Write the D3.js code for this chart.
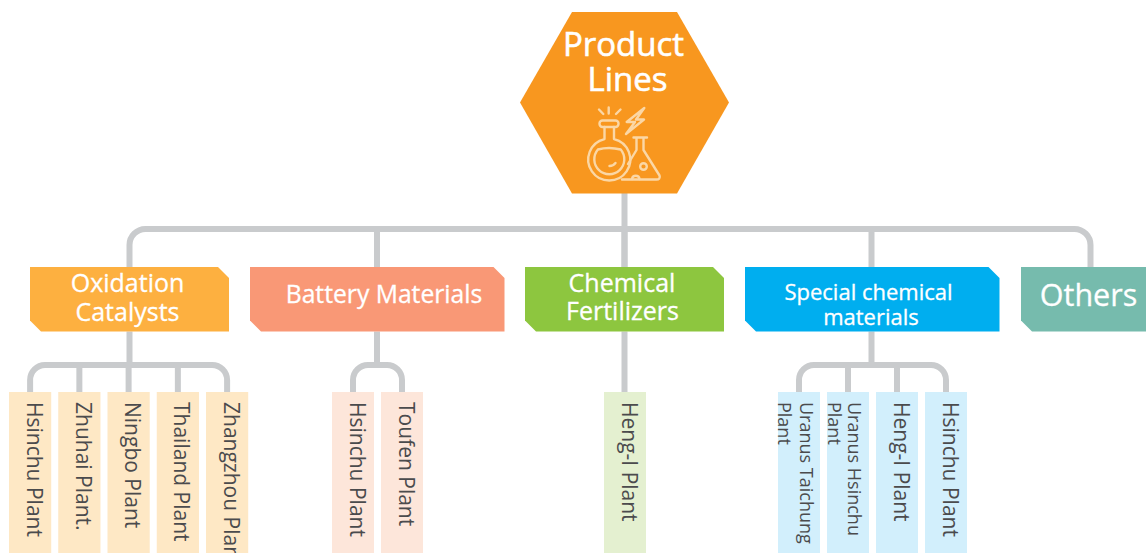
<!DOCTYPE html>
<html>
<head>
<meta charset="utf-8">
<script src="https://cdn.jsdelivr.net/npm/d3@7"></script>
<style>
  html, body { margin: 0; padding: 0; background: #fff; overflow: hidden; }
  svg { display: block; font-family: "Open Sans", sans-serif; }
</style>
</head>
<body>
<svg id="chart" width="1146" height="553"></svg>
<script>
// chart content
const rootLabel = ['Product', 'Lines'];
const categories = ['Oxidation Catalysts', 'Battery Materials', 'Chemical Fertilizers', 'Special chemical materials', 'Others'];
const categoryLines = [['Oxidation', 'Catalysts'], ['Battery Materials'], ['Chemical', 'Fertilizers'], ['Special chemical', 'materials'], ['Others']];
const plants = [
  ['Hsinchu Plant', 'Zhuhai Plant.', 'Ningbo Plant', 'Thailand Plant', 'Zhangzhou Plant'],
  ['Hsinchu Plant', 'Toufen Plant'],
  ['Heng-I Plant'],
  ['Uranus Taichung|Plant', 'Uranus Hsinchu|Plant', 'Heng-I Plant', 'Hsinchu Plant'],
  []
];

// colours
const headColors = ['#fdb040', '#f99876', '#8dc63f', '#00aeef', '#76bbad'];
const plantColors = ['#fee8c5', '#fde6da', '#e4f0d0', '#d2effc', '#fff'];
const lineColor = '#c9cbcd';

// layout
const headLeft = [30, 250, 525, 745, 1021];
const headWidth = [199, 254.5, 199, 254.5, 140];
const trunkX = [129.5, 377, 624.5, 871.5, 1090.5];
const plantStart = [9, 332, 604, 778, 0];
const plantStep = [49.25, 49, 49, 49, 49];
const headFont = [25, 24.7, 25, 22, 30.5];
const headBase = [[292, 321], [303], [292, 320], [300, 325], [306]];
const headCx = [[127.5, 127.5], [384], [622, 622.5], [868.5, 871], [1088.5]];
const rootX = [623.5, 627.5];
const cx = 624.5, barY = 229, subY = 365, headTop = 267, headBot = 331.5, plantTop = 392, plantBot = 553;

const svg = d3.select('#chart');
const lines = svg.append('g').attr('fill', 'none').attr('stroke', lineColor).attr('stroke-width', 6);

// main bar with rounded ends
const bar = d3.path();
bar.moveTo(trunkX[0], headTop);
bar.arcTo(trunkX[0], barY, trunkX[0] + 16, barY, 16);
bar.arcTo(trunkX[4], barY, trunkX[4], barY + 16, 16);
bar.lineTo(trunkX[4], headTop);
lines.append('path').attr('d', bar.toString());
lines.append('line').attr('x1', cx).attr('x2', cx).attr('y1', 190).attr('y2', headTop);

categories.forEach(function(cat, i) {
  var n = plants[i].length;
  if (i > 0 && i < 4) {
    lines.append('line').attr('x1', trunkX[i]).attr('x2', trunkX[i]).attr('y1', barY).attr('y2', headTop);
  }
  if (n === 0) return;

  var step = plantStep[i];
  var band = d3.scaleBand()
    .domain(d3.range(n))
    .range([plantStart[i] - step / 14, plantStart[i] - step / 14 + step * n])
    .paddingInner(1 / 7)
    .paddingOuter(1 / 14);
  var mid = function(k) { return band(k) + band.bandwidth() / 2; };

  // stem from the header down to the plant row
  lines.append('line').attr('x1', trunkX[i]).attr('x2', trunkX[i])
    .attr('y1', headBot).attr('y2', n > 1 ? subY : plantTop);

  if (n > 1) {
    var sub = d3.path();
    sub.moveTo(mid(0), plantTop);
    sub.arcTo(mid(0), subY, mid(0) + 15, subY, 15);
    sub.arcTo(mid(n - 1), subY, mid(n - 1), subY + 15, 15);
    sub.lineTo(mid(n - 1), plantTop);
    lines.append('path').attr('d', sub.toString());
    d3.range(1, n - 1).forEach(function(k) {
      lines.append('line').attr('x1', mid(k)).attr('x2', mid(k)).attr('y1', subY).attr('y2', plantTop);
    });
  }

  // plant boxes
  var g = svg.append('g');
  g.selectAll('rect').data(plants[i]).enter().append('rect')
    .attr('x', function(d, k) { return band(k); })
    .attr('y', plantTop)
    .attr('width', band.bandwidth())
    .attr('height', plantBot - plantTop)
    .attr('fill', plantColors[i]);

  plants[i].forEach(function(label, k) {
    var parts = label.split('|');
    parts.forEach(function(part, j) {
      var two = parts.length > 1;
      var bx = two ? (j === 0 ? mid(k) + 0.5 : mid(k) - 21) : mid(k) - 3.5;
      if (two && k === 1) bx = j === 0 ? mid(k) - 0.5 : mid(k) - 20;
      g.append('text')
        .attr('transform', 'translate(' + bx + ',' + (plantTop + 10) + ') rotate(90)')
        .attr('font-size', two ? 18 : 21)
        .attr('fill', '#4b4b4d')
        .text(part);
    });
  });
});

// category headers with the two cut corners
categories.forEach(function(cat, i) {
  var l = headLeft[i], r = l + headWidth[i], c = 11;
  var pts = [[l, headTop], [r - c, headTop], [r, headTop + c], [r, headBot], [l + c, headBot], [l, headBot - c]];
  svg.append('path').attr('d', d3.line()(pts) + 'Z').attr('fill', headColors[i]);
  categoryLines[i].forEach(function(t, j) {
    svg.append('text')
      .attr('x', headCx[i][j])
      .attr('y', headBase[i][j])
      .attr('text-anchor', 'middle')
      .attr('font-size', headFont[i])
      .attr('fill', '#fff')
      .attr('stroke', '#fff')
      .attr('stroke-width', 0.3)
      .text(t);
  });
});

// root hexagon
const hex = [[572, 12], [677, 12], [729, 102.5], [677, 193.5], [572, 193.5], [520, 102.5]];
svg.append('path').attr('d', d3.line()(hex) + 'Z').attr('fill', '#f8971f');
rootLabel.forEach(function(t, j) {
  svg.append('text')
    .attr('x', rootX[j])
    .attr('y', 56 + j * 34.5)
    .attr('text-anchor', 'middle')
    .attr('font-size', 33)
    .attr('fill', '#fff')
    .attr('stroke', '#fff')
    .attr('stroke-width', 0.6)
    .text(t);
});

// flask icon
const icon = svg.append('g').attr('fill', 'none').attr('stroke', '#fbd7a5').attr('stroke-width', 2.4)
  .attr('stroke-linecap', 'round').attr('stroke-linejoin', 'round');
icon.append('path').attr('d', 'M608.7 107.5V113.5M599 109.5L603.3 114M620.5 109.5L616 114');
icon.append('path').attr('d', 'M644.3 108L626.7 122H635L626 134L644 119.5H636Z');
icon.append('rect').attr('x', 599.5).attr('y', 120.5).attr('width', 19).attr('height', 6.5).attr('rx', 3);
icon.append('path').attr('d', 'M604.5 127V139.1A21 21 0 1 0 614 139.1V127');
icon.append('path').attr('d', 'M597.9 149.5A15 15 0 1 0 620.7 149.5C613 147.5 605 147.5 597.9 149.5Z');
icon.append('path').attr('d', 'M609.5 166C612 166 614 165 615.5 163');
icon.append('path').attr('d', 'M633.5 137.5H647M636.5 137.5V150L628 164M643.5 137.5V150L659.5 175.5C660.5 178 659 179.5 656.5 179.5H622');
icon.append('circle').attr('cx', 643.5).attr('cy', 166.5).attr('r', 3.3);
icon.append('path').attr('d', 'M632 179A3.8 3.8 0 0 1 639.5 179');
</script>
</body>
</html>
